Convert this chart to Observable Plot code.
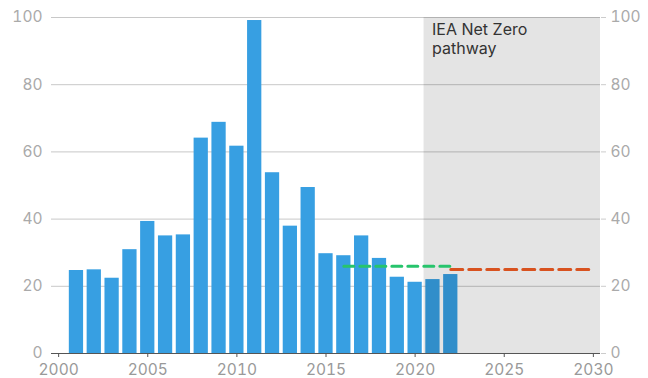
<!DOCTYPE html>
<html>
<head>
<meta charset="utf-8">
<script src="https://cdn.jsdelivr.net/npm/d3@7"></script>
<script src="https://cdn.jsdelivr.net/npm/@observablehq/plot@0.6"></script>
<style>
  html, body { margin: 0; padding: 0; background: #fff; }
  #chart svg { display: block; }
</style>
</head>
<body>
<div id="chart"></div>
<script>
const years = [2001, 2002, 2003, 2004, 2005, 2006, 2007, 2008, 2009, 2010, 2011,
               2012, 2013, 2014, 2015, 2016, 2017, 2018, 2019, 2020, 2021, 2022];
const values = [24.7, 24.9, 22.4, 30.9, 39.3, 35.0, 35.3, 64.1, 68.8, 61.7, 99.1,
                53.8, 37.9, 49.4, 29.7, 29.1, 35.0, 28.3, 22.7, 21.2, 22.0, 23.5];
const avgYears = [2016, 2022];
const avgValues = [26, 26];
const nzYears = [2022, 2030];
const nzValues = [25, 25];
const shadeStart = 2020.5;
const shadeLabel = "IEA Net Zero\npathway";
const xTicks = [2000, 2005, 2010, 2015, 2020, 2025, 2030];
const yTicks = [0, 20, 40, 60, 80, 100];

const bars = years.map((y, i) => ({year: y, value: values[i]}));
const avg = avgYears.map((y, i) => ({year: y, value: avgValues[i]}));
const nz = nzYears.map((y, i) => ({year: y, value: nzValues[i]}));

const chart = Plot.plot({
  width: 648,
  height: 378,
  marginLeft: 51,
  marginRight: 48,
  marginTop: 17,
  marginBottom: 25,
  style: {fontFamily: "Inter, 'Open Sans', sans-serif", fontSize: "15px", background: "#fff"},
  x: {domain: [1999.6, 2030.4], label: null},
  y: {domain: [0, 100], label: null},
  marks: [
    Plot.gridY(yTicks, {stroke: "#c8c8c8", strokeOpacity: 1}),
    Plot.rectY(bars, {x1: d => d.year - 0.4, x2: d => d.year + 0.4, y1: 0, y2: "value", fill: "#379fe2"}),
    Plot.rect([shadeStart], {x1: d => d, x2: 2030.4, y1: 0, y2: 100, fill: "#000", fillOpacity: 0.105}),
    Plot.ruleY([0], {stroke: "#555", strokeWidth: 1.2}),
    Plot.line(avg, {x: "year", y: "value", stroke: "#27c46c", strokeWidth: 3, strokeDasharray: "10,6"}),
    Plot.line(nz, {x: "year", y: "value", stroke: "#d8521f", strokeWidth: 3, strokeDasharray: "12,6"}),
    Plot.text([shadeLabel], {x: shadeStart, y: 100, text: d => d, textAnchor: "start", lineAnchor: "top", dx: 8, dy: 4, fill: "#333", fontSize: 16, lineHeight: 1.2}),
    Plot.axisX(xTicks, {anchor: "bottom", tickSize: 4, tickPadding: 6, stroke: "#555", fill: "#999", tickFormat: d => String(d), fontSize: 15.5}),
    Plot.axisY(yTicks, {anchor: "left", tickSize: 0, tickPadding: 9, fill: "#aaa", fontSize: 15.5}),
    Plot.axisY(yTicks, {anchor: "right", tickSize: 5, tickPadding: 5, stroke: "#ccc", fill: "#aaa", fontSize: 15.5})
  ]
});
document.getElementById("chart").appendChild(chart);
</script>
</body>
</html>
